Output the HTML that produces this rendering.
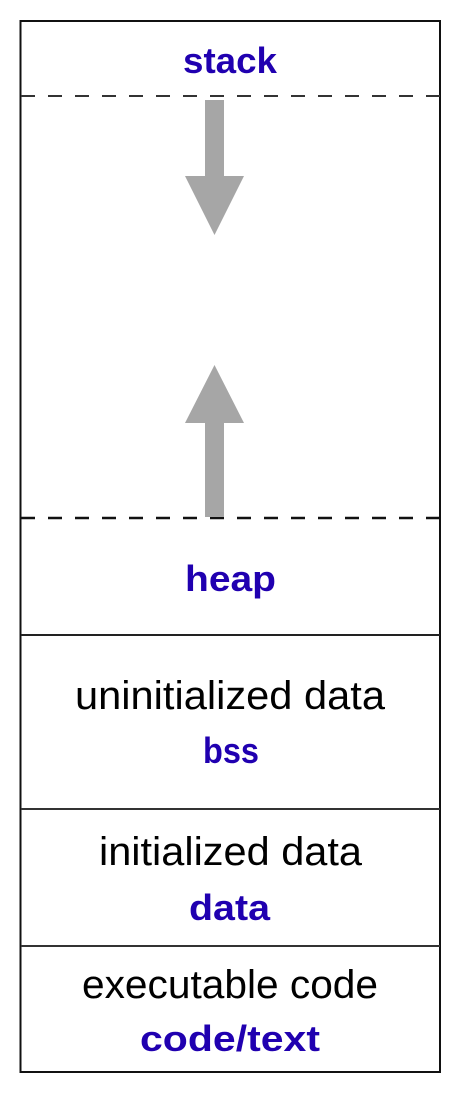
<!DOCTYPE html>
<html><head><meta charset="utf-8"><style>html,body{margin:0;padding:0;background:#fff}svg{display:block}</style></head>
<body>
<svg width="467" height="1101" viewBox="0 0 467 1101" xmlns="http://www.w3.org/2000/svg">
<rect x="20.5" y="21" width="419.5" height="1051" fill="#fff" stroke="#111" stroke-width="2"/>
<line x1="21" y1="96" x2="440" y2="96" stroke="#333" stroke-width="2" stroke-dasharray="14,13"/>
<line x1="21" y1="518" x2="440" y2="518" stroke="#111" stroke-width="2.5" stroke-dasharray="14,13"/>
<line x1="21" y1="635" x2="440" y2="635" stroke="#222" stroke-width="2"/>
<line x1="21" y1="809" x2="440" y2="809" stroke="#333" stroke-width="2"/>
<line x1="21" y1="946" x2="440" y2="946" stroke="#333" stroke-width="2"/>
<polygon points="205,100 224,100 224,176 244,176 214.5,235 185,176 205,176" fill="#a6a6a6"/>
<polygon points="205,517 224,517 224,423 244,423 214.5,365 185,423 205,423" fill="#a6a6a6"/>
<g font-family="Liberation Sans, sans-serif" font-size="40" text-anchor="start">
<text x="183" y="73" fill="#2000b0" font-size="36" font-weight="bold" textLength="94" lengthAdjust="spacingAndGlyphs">stack</text>
<text x="185" y="591" fill="#2000b0" font-size="36" font-weight="bold" textLength="91" lengthAdjust="spacingAndGlyphs">heap</text>
<text x="75" y="709" fill="#000" textLength="310" lengthAdjust="spacingAndGlyphs">uninitialized data</text>
<text x="203" y="763" fill="#2000b0" font-size="36" font-weight="bold" textLength="56" lengthAdjust="spacingAndGlyphs">bss</text>
<text x="99" y="865" fill="#000" textLength="263" lengthAdjust="spacingAndGlyphs">initialized data</text>
<text x="189" y="920" fill="#2000b0" font-size="36" font-weight="bold" textLength="81" lengthAdjust="spacingAndGlyphs">data</text>
<text x="82" y="998" fill="#000" textLength="296" lengthAdjust="spacingAndGlyphs">executable code</text>
<text x="140" y="1051" fill="#2000b0" font-size="36" font-weight="bold" textLength="180" lengthAdjust="spacingAndGlyphs">code/text</text>
</g>
</svg>
</body></html>
